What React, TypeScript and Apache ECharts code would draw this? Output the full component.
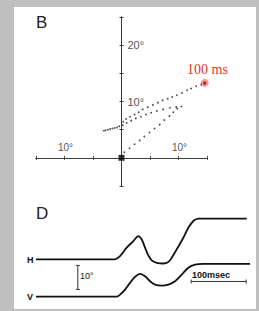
import React, { useEffect, useRef } from "react";
import * as echarts from "echarts";

// Panel B: eye position trajectory (deg), H = x, V = y
const seg1 = [[0.5,1.0],[1.4,1.7],[2.3,2.4],[3.2,3.1],[4.0,3.8],[4.9,4.5],[5.8,5.2],[6.7,5.9],[7.5,6.7],[8.4,7.4],[9.1,8.1],[9.8,8.7],[10.5,9.1]];
const seg2 = [[9.6,9.0],[8.5,8.9],[7.3,8.6],[6.2,8.3],[5.2,8.0],[4.3,7.7],[3.4,7.3],[2.5,7.0],[1.7,6.6],[0.9,6.2],[0.2,5.8]];
const cluster = [[-0.4,5.6],[-0.8,5.4],[-1.2,5.3],[-1.6,5.2],[-2.0,5.1],[-2.4,5.0],[-2.8,4.9],[-3.1,4.8]];
const seg3 = [[0.3,6.4],[0.8,6.9],[1.5,7.3],[2.3,7.7],[3.0,8.1],[3.7,8.6],[4.6,9.0],[5.5,9.4],[6.4,9.8],[7.2,10.2],[8.1,10.5],[8.9,10.8],[9.7,11.1],[10.6,11.5],[11.5,12.0],[12.2,12.3],[13.1,12.7],[14.0,13.0]];
const origin = [[0, 0]];
const endPoint = [[14.6, 13.3]];
const xTickLabels = [[-10, 0, "10°"], [10, 0, "10°"]];
const yTickLabels = [[0, 10, "10°"], [0, 20, "20°"]];

// Panel D: time (ms) vs position (deg)
const hTrace = [[0,0],[143.6,0],[152.7,1.4],[164.9,4.9],[176.9,7.6],[186,9.7],[192.2,8.3],[198.2,4.9],[204.2,1.7],[210.4,-0.4],[219.5,-1.4],[231.5,-1.7],[240.5,-1.1],[246.7,0.7],[255.8,4.2],[267.8,9.0],[276.9,13.2],[286,16.0],[295,17.0],[310.4,17.0],[383,17.0]];
const vTrace = [[0,0],[146.7,0],[152.7,0.8],[161.8,2.9],[170.9,5.7],[180,8.2],[189.1,9.5],[198.2,8.5],[207.3,6.4],[216.4,5.0],[228.5,4.6],[240.5,5.0],[252.7,6.4],[264.9,9.2],[276.9,12.0],[289.1,13.3],[304.2,13.6],[389,13.6]];
const degBar = [[76,-2.5],[76,-12.5]];
const msBar = [[282,6.3],[382,6.3]];

const dot = (data: number[][], z = 3) => ({
  type: "scatter", xAxisIndex: 0, yAxisIndex: 0, data, symbol: "circle", symbolSize: 1.8,
  itemStyle: { color: "#222" }, z,
});

export default function App() {
  const ref = useRef<HTMLDivElement>(null);
  useEffect(() => {
    const chart = echarts.init(ref.current!, null, { renderer: "svg" });
    const axisLine = { show: true, onZero: true, lineStyle: { color: "#3a3a3a", width: 1 } };
    const tick = { show: true, length: 2, inside: false, lineStyle: { color: "#3a3a3a", width: 1 } };
    const tickLabelSeries = (data: any[], position: string, offset: number[], fontSize: number) => ({
      type: "scatter", xAxisIndex: 0, yAxisIndex: 0, data, symbolSize: 0, silent: true,
      itemStyle: { color: "#222" },
      label: { show: true, position, offset, fontSize, color: "#222", fontFamily: "Liberation Sans",
        textBorderWidth: 0, formatter: (p: any) => p.data[2] },
    });
    chart.setOption({
      animation: false,
      textStyle: { fontFamily: "Liberation Sans" },
      grid: [
        { left: 36, top: 17, width: 171, height: 169 },
        { left: 36, top: 209, width: 214, height: 96 },
      ],
      xAxis: [
        { type: "value", gridIndex: 0, min: -15, max: 15, interval: 5, position: "bottom",
          axisLine, axisTick: tick, splitLine: { show: false }, axisLabel: { show: false } },
        { type: "value", gridIndex: 0, min: -15, max: 15, interval: 5, position: "top",
          axisLine, axisTick: tick, splitLine: { show: false }, axisLabel: { show: false } },
        { type: "value", gridIndex: 1, min: 0, max: 389, show: false },
      ],
      yAxis: [
        { type: "value", gridIndex: 0, min: -5, max: 25, interval: 5, position: "left",
          axisLine, axisTick: tick, splitLine: { show: false }, axisLabel: { show: false } },
        { type: "value", gridIndex: 0, min: -5, max: 25, interval: 5, position: "right",
          axisLine, axisTick: tick, splitLine: { show: false }, axisLabel: { show: false } },
        { type: "value", gridIndex: 1, min: -19, max: 21, show: false },
        { type: "value", gridIndex: 1, min: -3.5, max: 36.5, show: false },
      ],
      series: [
        dot(seg1), dot(seg2), dot(cluster), dot(seg3),
        tickLabelSeries(xTickLabels, "top", [1, 0], 10),
        tickLabelSeries(yTickLabels, "right", [1, 0], 11),
        { type: "scatter", xAxisIndex: 0, yAxisIndex: 0, data: origin, symbol: "rect", symbolSize: 6,
          itemStyle: { color: "#000" }, z: 4 },
        { type: "scatter", xAxisIndex: 0, yAxisIndex: 0, data: endPoint, symbol: "circle", symbolSize: 8,
          itemStyle: { color: "rgba(235,80,80,0.7)" }, z: 4 },
        { type: "scatter", xAxisIndex: 0, yAxisIndex: 0, data: endPoint, symbol: "circle", symbolSize: 3.5,
          itemStyle: { color: "#a01010" }, z: 5 },
        { type: "line", xAxisIndex: 2, yAxisIndex: 2, data: hTrace, smooth: 0.35, symbol: "none",
          lineStyle: { color: "#111", width: 1.8 } },
        { type: "line", xAxisIndex: 2, yAxisIndex: 3, data: vTrace, smooth: 0.35, symbol: "none",
          lineStyle: { color: "#111", width: 1.8 } },
        { type: "line", xAxisIndex: 2, yAxisIndex: 2, data: degBar, symbol: "rect", symbolSize: [4, 1],
          itemStyle: { color: "#333" }, lineStyle: { color: "#333", width: 1 } },
        { type: "line", xAxisIndex: 2, yAxisIndex: 3, data: msBar, symbol: "rect", symbolSize: [1, 4],
          itemStyle: { color: "#333" }, lineStyle: { color: "#333", width: 1 } },
      ],
      graphic: [
        { type: "text", left: 36, top: 14, style: { text: "B", fontSize: 17, fontFamily: "Liberation Sans", fill: "#222" } },
        { type: "text", left: 36, top: 205, style: { text: "D", fontSize: 17, fontFamily: "Liberation Sans", fill: "#222" } },
        { type: "text", left: 187, top: 62, style: { text: "100 ms", fontSize: 14, fontFamily: "Liberation Serif", fill: "#e8302a" } },
        { type: "text", left: 27, top: 255, style: { text: "H", fontSize: 9, fontWeight: "bold", fontFamily: "Liberation Sans", fill: "#111" } },
        { type: "text", left: 27, top: 292, style: { text: "V", fontSize: 9, fontWeight: "bold", fontFamily: "Liberation Sans", fill: "#111" } },
        { type: "text", left: 80, top: 271, style: { text: "10°", fontSize: 9, fontFamily: "Liberation Sans", fill: "#111" } },
        { type: "text", left: 192, top: 270, style: { text: "100msec", fontSize: 9, fontWeight: "bold", fontFamily: "Liberation Sans", fill: "#111" } },
      ],
    });
    return () => chart.dispose();
  }, []);
  return (
    <div style={{ position: "absolute", left: 0, top: 0, width: 259, height: 311, background: "#bfbfbf" }}>
      <div style={{ position: "absolute", left: 14, top: 7, width: 242, height: 302, background: "#fff" }} />
      <div ref={ref} style={{ position: "absolute", left: 0, top: 0, width: 259, height: 311 }} />
    </div>
  );
}
